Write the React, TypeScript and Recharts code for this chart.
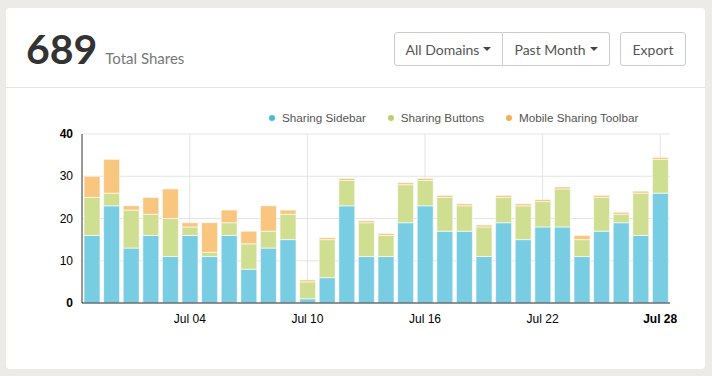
import { BarChart, Bar, XAxis, YAxis, CartesianGrid } from "recharts";

const days = [
  "Jun 29", "Jun 30", "Jul 01", "Jul 02", "Jul 03", "Jul 04", "Jul 05", "Jul 06", "Jul 07", "Jul 08",
  "Jul 09", "Jul 10", "Jul 11", "Jul 12", "Jul 13", "Jul 14", "Jul 15", "Jul 16", "Jul 17", "Jul 18",
  "Jul 19", "Jul 20", "Jul 21", "Jul 22", "Jul 23", "Jul 24", "Jul 25", "Jul 26", "Jul 27", "Jul 28",
];
const sidebar = [16, 23, 13, 16, 11, 16, 11, 16, 8, 13, 15, 1, 6, 23, 11, 11, 19, 23, 17, 17, 11, 19, 15, 18, 18, 11, 17, 19, 16, 26];
const buttons = [9, 3, 9, 5, 9, 2, 1, 3, 6, 4, 6, 4, 9, 6, 8, 5, 9, 6, 8, 6, 7, 6, 8, 6, 9, 4, 8, 2, 10, 8];
const mobile = [5, 8, 1, 4, 7, 1, 7, 3, 3, 6, 1, 0, 0, 0, 0, 0, 0, 0, 0, 0, 0, 0, 0, 0, 0, 1, 0, 0, 0, 0];
const xTicks = ["Jul 04", "Jul 10", "Jul 16", "Jul 22", "Jul 28"];
const yTicks = [0, 10, 20, 30, 40];

const data = days.map((day, i) => ({
  day,
  sidebar: sidebar[i],
  buttons: buttons[i],
  mobile: mobile[i],
}));

const series = [
  { key: "sidebar", name: "Sharing Sidebar", fill: "#79cde3", dot: "#4cb8dc" },
  { key: "buttons", name: "Sharing Buttons", fill: "#d0de91", dot: "#b8d36a" },
  { key: "mobile", name: "Mobile Sharing Toolbar", fill: "#f8c67e", dot: "#f7ae50" },
];

const axisFont = "'Liberation Sans', Arial, sans-serif";

const btn: React.CSSProperties = {
  height: 34,
  boxSizing: "border-box",
  border: "1px solid #ccc",
  background: "#fff",
  display: "flex",
  alignItems: "center",
  justifyContent: "center",
  fontSize: 14,
  color: "#555",
};

function Caret() {
  return (
    <span
      style={{
        display: "inline-block",
        marginLeft: 4,
        width: 0,
        height: 0,
        borderLeft: "4px solid transparent",
        borderRight: "4px solid transparent",
        borderTop: "4px solid #444",
      }}
    />
  );
}

// vertical grid lines only at the labelled days (band centres)
const gridX = ({ xAxis, offset }: any) => {
  const scale = xAxis && xAxis.scale;
  if (typeof scale === "function") {
    const half = typeof scale.bandwidth === "function" ? scale.bandwidth() / 2 : 0;
    const pts = xTicks.map((t) => scale(t) + half);
    if (pts.every((p) => Number.isFinite(p))) return pts;
  }
  return xTicks.map((t) => offset.left + (offset.width * (days.indexOf(t) + 0.5)) / days.length);
};

export default function App() {
  return (
    <div
      style={{
        position: "absolute",
        left: 0,
        top: 0,
        width: 712,
        height: 376,
        background: "#ecebe7",
        fontFamily: "Lato, 'Open Sans', sans-serif",
      }}
    >
      <div
        style={{
          position: "absolute",
          left: 6,
          top: 8,
          width: 699,
          height: 361,
          background: "#fff",
          borderRadius: 4,
        }}
      >
        <div style={{ position: "absolute", left: 20, top: 16, display: "flex", alignItems: "baseline" }}>
          <span style={{ fontSize: 41, fontWeight: 700, color: "#333" }}>689</span>
          <span style={{ fontSize: 15, color: "#777", marginLeft: 8 }}>Total Shares</span>
        </div>
        <div style={{ position: "absolute", left: 388, top: 24, display: "flex" }}>
          <div style={{ ...btn, width: 109, borderRadius: "3px 0 0 3px" }}>
            All Domains<Caret />
          </div>
          <div style={{ ...btn, width: 107, borderLeft: "none", borderRadius: "0 3px 3px 0" }}>
            Past Month<Caret />
          </div>
          <div style={{ ...btn, width: 66, marginLeft: 10, borderRadius: 3 }}>Export</div>
        </div>
        <div style={{ position: "absolute", left: 0, right: 0, top: 79, height: 1, background: "#e3e3e3" }} />
      </div>

      <div
        style={{
          position: "absolute",
          left: 269,
          top: 111,
          display: "flex",
          fontFamily: axisFont,
          fontSize: 11.7,
          color: "#555",
        }}
      >
        {series.map((s) => (
          <div key={s.key} style={{ display: "flex", alignItems: "center", marginRight: 22 }}>
            <span
              style={{
                width: 6,
                height: 6,
                borderRadius: 3,
                background: s.dot,
                marginRight: 7,
              }}
            />
            {s.name}
          </div>
        ))}
      </div>

      <div style={{ position: "absolute", left: 0, top: 100 }}>
        <BarChart
          width={712}
          height={230}
          data={data}
          barCategoryGap={2}
          margin={{ top: 34, right: 42, bottom: 2, left: 40 }}
        >
          <CartesianGrid stroke="#e4e4e4" verticalCoordinatesGenerator={gridX} />
          <XAxis
            dataKey="day"
            interval={0}
            height={25}
            tickLine={false}
            axisLine={{ stroke: "#333" }}
            tick={({ x, y, payload }: { x: number; y: number; payload: { value: string } }) =>
              xTicks.includes(payload.value) ? (
                <text
                  x={x}
                  y={y + 12}
                  textAnchor="middle"
                  fontSize={12}
                  fontFamily={axisFont}
                  fontWeight={payload.value === "Jul 28" ? 700 : 400}
                  fill="#000"
                >
                  {payload.value}
                </text>
              ) : (
                <g />
              )
            }
          />
          <YAxis
            width={42}
            domain={[0, 40]}
            ticks={yTicks}
            tickLine={false}
            axisLine={{ stroke: "#333" }}
            tick={({ x, y, payload }: { x: number; y: number; payload: { value: number } }) => (
              <text
                x={x - 1}
                y={y + 4}
                textAnchor="end"
                fontSize={12}
                fontFamily={axisFont}
                fontWeight={payload.value === 0 || payload.value === 40 ? 700 : 400}
                fill="#000"
              >
                {payload.value}
              </text>
            )}
          />
          {series.map((s) => (
            <Bar
              key={s.key}
              dataKey={s.key}
              name={s.name}
              stackId="a"
              fill={s.fill}
              stroke="#fff"
              strokeOpacity={0.6}
              minPointSize={s.key === "mobile" ? 2 : 0}
              isAnimationActive={false}
            />
          ))}
        </BarChart>
      </div>
    </div>
  );
}
